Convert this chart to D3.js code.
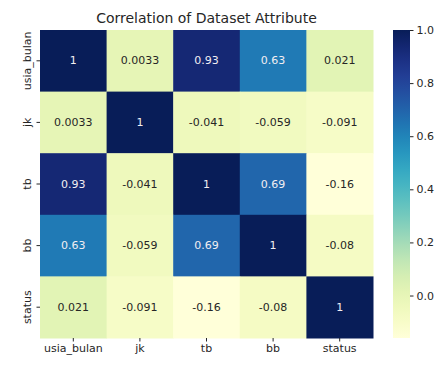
<!DOCTYPE html>
<html>
<head>
<meta charset="UTF-8">
<script src="https://d3js.org/d3.v7.min.js"></script>
<style>
  body { margin: 0; background: #fff; font-family: "DejaVu Sans", sans-serif; }
</style>
</head>
<body>
<div id="chart"></div>
<script>
// data
const labels = ["usia_bulan", "jk", "tb", "bb", "status"];
const matrix = [
  [1, 0.0033, 0.93, 0.63, 0.021],
  [0.0033, 1, -0.041, -0.059, -0.091],
  [0.93, -0.041, 1, 0.69, -0.16],
  [0.63, -0.059, 0.69, 1, -0.08],
  [0.021, -0.091, -0.16, -0.08, 1]
];
const cbarTicks = [0.0, 0.2, 0.4, 0.6, 0.8, 1.0];
const vmin = -0.16, vmax = 1.0;

const W = 440, H = 365;
const plot = {left: 40, top: 30, right: 373, bottom: 338};

const svg = d3.select("#chart").append("svg")
  .attr("width", W).attr("height", H)
  .style("font-family", "'DejaVu Sans', sans-serif");

const x = d3.scaleBand().domain(labels).range([plot.left, plot.right]);
const y = d3.scaleBand().domain(labels).range([plot.top, plot.bottom]);
const color = d3.scaleSequential(d3.interpolateYlGnBu).domain([vmin, vmax]);

const cells = [];
matrix.forEach((row, i) => row.forEach((v, j) => cells.push({r: labels[i], c: labels[j], v})));

svg.selectAll("rect.cell").data(cells).enter().append("rect")
  .attr("class", "cell")
  .attr("x", d => x(d.c)).attr("y", d => y(d.r))
  .attr("width", x.bandwidth() + 0.5).attr("height", y.bandwidth() + 0.5)
  .attr("fill", d => color(d.v));

svg.selectAll("text.ann").data(cells).enter().append("text")
  .attr("class", "ann")
  .attr("x", d => x(d.c) + x.bandwidth() / 2)
  .attr("y", d => y(d.r) + y.bandwidth() / 2)
  .attr("text-anchor", "middle").attr("dominant-baseline", "central")
  .attr("font-size", 11)
  .attr("fill", d => {
    const c = d3.rgb(color(d.v));
    const lum = 0.2126 * c.r + 0.7152 * c.g + 0.0722 * c.b;
    return lum > 110 ? "#262626" : "#f2eef2";
  })
  .text(d => d.v);

// axes
const xAxis = svg.append("g").attr("transform", `translate(0,${plot.bottom})`)
  .call(d3.axisBottom(x).tickSize(3.5).tickPadding(3));
xAxis.select(".domain").remove();
xAxis.selectAll("text").attr("font-size", 11).attr("fill", "#262626").attr("font-family", "'DejaVu Sans', sans-serif");
xAxis.selectAll("line").attr("stroke", "#262626");

const yAxis = svg.append("g").attr("transform", `translate(${plot.left},0)`)
  .call(d3.axisLeft(y).tickSize(3.5).tickPadding(3));
yAxis.select(".domain").remove();
yAxis.selectAll("line").attr("stroke", "#262626");
yAxis.selectAll("text")
  .attr("font-size", 11).attr("fill", "#262626").attr("font-family", "'DejaVu Sans', sans-serif")
  .attr("transform", "rotate(-90)")
  .attr("x", 0).attr("dy", 0)
  .attr("y", -9)
  .attr("text-anchor", "middle")
  .attr("dominant-baseline", "auto");

// title
svg.append("text")
  .attr("x", (plot.left + plot.right) / 2).attr("y", 23)
  .attr("text-anchor", "middle").attr("font-size", 14).attr("fill", "#262626")
  .text("Correlation of Dataset Attribute");

// colorbar
const cb = {x: 393, w: 17};
const cy = d3.scaleLinear().domain([vmin, vmax]).range([plot.bottom, plot.top]);
const defs = svg.append("defs");
const grad = defs.append("linearGradient").attr("id", "cbar")
  .attr("x1", 0).attr("y1", 1).attr("x2", 0).attr("y2", 0);
d3.range(0, 1.0001, 0.05).forEach(t => {
  grad.append("stop").attr("offset", t).attr("stop-color", color(vmin + t * (vmax - vmin)));
});
svg.append("rect")
  .attr("x", cb.x).attr("y", plot.top)
  .attr("width", cb.w).attr("height", plot.bottom - plot.top)
  .attr("fill", "url(#cbar)");

const cAxis = svg.append("g").attr("transform", `translate(${cb.x + cb.w},0)`)
  .call(d3.axisRight(cy).tickValues(cbarTicks).tickFormat(d3.format(".1f")).tickSize(3.5).tickPadding(3));
cAxis.select(".domain").remove();
cAxis.selectAll("line").attr("stroke", "#262626");
cAxis.selectAll("text").attr("font-size", 11).attr("fill", "#262626").attr("font-family", "'DejaVu Sans', sans-serif");
</script>
</body>
</html>
